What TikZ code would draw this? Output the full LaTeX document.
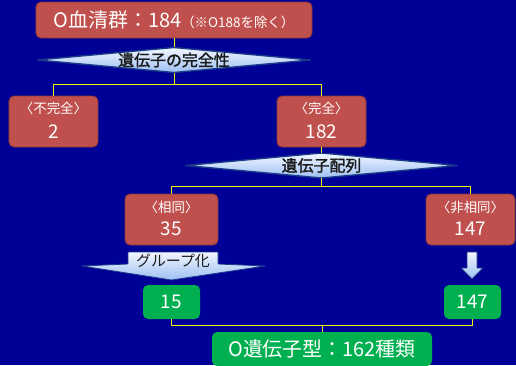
\documentclass[tikz,border=0pt]{standalone}
\usepackage{fontspec}
\setmainfont{Noto Sans CJK JP}
\newfontfamily\dfont{Noto Sans CJK JP}[FakeBold=1.6]
\newcommand\fsz[1]{\fontsize{#1}{#1}\selectfont}
\definecolor{bg}{HTML}{000096}
\definecolor{boxred}{HTML}{C0504D}
\definecolor{boxredd}{HTML}{8C3836}
\definecolor{boxgreen}{HTML}{00B050}
\definecolor{lineyellow}{HTML}{F2F200}
\definecolor{dtop}{HTML}{F2F7FF}
\definecolor{dbot}{HTML}{9DBFF3}
\definecolor{dedge}{HTML}{1A3A8A}
\definecolor{dtext}{HTML}{1A1A1A}
\begin{document}
\begin{tikzpicture}[x=1bp,y=-1bp,
  redbox/.style={fill=boxred, draw=boxredd, line width=0.8bp, rounded corners=5bp, inner sep=0pt, text=white},
  greenbox/.style={fill=boxgreen, rounded corners=5bp, inner sep=0pt, text=white},
  conn/.style={draw=lineyellow, line width=1bp},
  lbl/.style={text=white, inner sep=0pt, font=\fsz{13.5}},
  num/.style={text=white, inner sep=0pt, font=\fsz{19}},
  shadeblue/.style={top color=dtop, bottom color=dbot, draw=dedge, line width=0.8bp},
  decision/.style={inner sep=0pt, text=dtext, font=\dfont\fsz{16},
    path picture={
      \shade[shadeblue, line width=1.4bp]
      (path picture bounding box.west) -- (path picture bounding box.north) --
      (path picture bounding box.east) -- (path picture bounding box.south) -- cycle;}},
]
\useasboundingbox (0,0) rectangle (516,365);
\clip (0,0) rectangle (516,365);
\fill[bg] (0,0) rectangle (516,365);

% top
\node[redbox, minimum width=276bp, minimum height=36bp] (top) at (174,20)
  {{\fsz{20}O血清群：184}{\fsz{13.5}（※O188を除く）}};
\node[decision, minimum width=273bp, minimum height=25bp] (d1) at (174,60) {遺伝子の完全性};
\coordinate (j1) at (174,84);

% level 2
\node[redbox, minimum width=89bp, minimum height=51bp] (inc) at (53.5,121.5) {};
\node[lbl] (incl) at (53.5,108) {〈不完全〉};
\node[num] (incn) at (53.5,132) {2};
\node[redbox, minimum width=89bp, minimum height=51bp] (comp) at (321.5,121.5) {};
\node[lbl] (compl) at (321.5,108) {〈完全〉};
\node[num] (compn) at (321.5,132) {182};

\node[decision, minimum width=272bp, minimum height=25bp] (d2) at (321.5,165.5) {遺伝子配列};
\coordinate (j2) at (321.5,186);

% level 3
\node[redbox, minimum width=93bp, minimum height=51bp] (sa) at (171.5,219.5) {};
\node[lbl] (sal) at (171.5,207) {〈相同〉};
\node[num] (san) at (171.5,229) {35};
\node[redbox, minimum width=89bp, minimum height=51bp] (na) at (470.5,219.5) {};
\node[lbl] (nal) at (470.5,207) {〈非相同〉};
\node[num] (nan) at (470.5,229) {147};

% arrows
\shade[shadeblue] (128,252) -- (218,252) -- (218,264) -- (265,266) -- (171.5,280) -- (82,266) -- (128,264) -- cycle;
\node[inner sep=0pt, text=dtext, font=\fsz{15}] (grp) at (173,261) {グループ化};
\shade[shadeblue] (467,252) -- (477,252) -- (477,268) -- (483,268) -- (472,279) -- (461,268) -- (467,268) -- cycle;

% green
\node[greenbox, minimum width=57bp, minimum height=34bp, font=\fsz{19}] (g1) at (171.5,302) {15};
\node[greenbox, minimum width=57bp, minimum height=34bp, font=\fsz{19}] (g2) at (472.5,302) {147};
\coordinate (j3) at (322,325);
\node[greenbox, minimum width=220bp, minimum height=34bp, font=\fsz{20}] (final) at (322,349) {O遺伝子型：162種類};

% connectors
\draw[conn] (top.south) -- (d1.north);
\draw[conn] (d1.south) -- (j1) -| (inc.north);
\draw[conn] (j1) -| (comp.north);
\draw[conn] (comp.south) -- (d2.north);
\draw[conn] (d2.south) -- (j2) -| (sa.north);
\draw[conn] (j2) -| (na.north);
\draw[conn] (g1.south) |- (j3) -| (g2.south);
\draw[conn] (j3) -- (final.north);
\end{tikzpicture}
\end{document}
